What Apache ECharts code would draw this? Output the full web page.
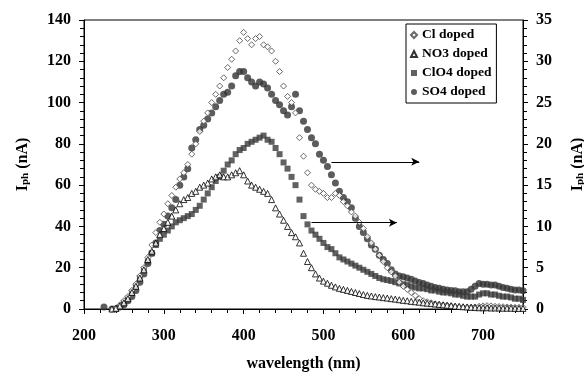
<!DOCTYPE html>
<html>
<head>
<meta charset="utf-8">
<script src="https://cdn.jsdelivr.net/npm/echarts@6/dist/echarts.min.js"></script>
<style>
  html, body { margin: 0; padding: 0; background: #fff; }
  #chart { width: 584px; height: 372px; }
</style>
</head>
<body>
<div id="chart"></div>
<script>
// wavelength (nm), shared by every series
const wavelength = [
  225, 230, 235, 240, 245, 250, 255, 260, 265, 270,
  275, 280, 285, 290, 295, 300, 305, 310, 315, 320,
  325, 330, 335, 340, 345, 350, 355, 360, 365, 370,
  375, 380, 385, 390, 395, 400, 405, 410, 415, 420,
  425, 430, 435, 440, 445, 450, 455, 460, 465, 470,
  475, 480, 485, 490, 495, 500, 505, 510, 515, 520,
  525, 530, 535, 540, 545, 550, 555, 560, 565, 570,
  575, 580, 585, 590, 595, 600, 605, 610, 615, 620,
  625, 630, 635, 640, 645, 650, 655, 660, 665, 670,
  675, 680, 685, 690, 695, 700, 705, 710, 715, 720,
  725, 730, 735, 740, 745, 750
];

// left axis (nA)
const clDoped = [
  null, null, 0, 0.5, 2, 4, 6, 9, 12, 16,
  20, 25, 31, 37, 42, 46, 51, 55, 59, 63,
  66, 70, 75, 80, 86, 91, 95, 100, 104, 108,
  112, 117, 121, 125, 130, 134, 131, 128, 131, 132,
  128, 127, 125, 120, 115, 108, 103, 100, 95, 83,
  74, 66, 60, 58, 57, 56, 54, 54, 56, 55,
  52, 50, 47, 45, 42, 39, 35, 32, 29, 26,
  23, 20, 18, 16, 13, 11, 9.5, 8, 6.5, 5,
  4, 3.5, 3, 2.5, 2.2, 2, 1.8, 1.5, 1.2, 1,
  0.9, 0.8, 0.9, 1, 1.3, 1.5, 1.6, 1.5, 1.3, 1.2,
  1.1, 1, 0.9, 0.8, 0.8, 0.8
];
const no3Doped = [
  null, null, 0, 0.3, 1.5, 3, 5, 8, 11, 15,
  19, 24, 28, 32, 36, 39, 42, 45, 48, 51,
  53, 54, 56, 57, 59, 60, 61, 63, 64, 65,
  64, 64, 65, 66, 67, 65, 62, 60, 59, 58,
  57, 56, 53, 49, 46, 43, 40, 37, 35, 32,
  27, 23, 20, 17, 15, 13.5, 12.5, 11.5, 10.7, 10,
  9.5, 9, 8.5, 8, 7.5, 7, 6.6, 6.3, 6, 5.8,
  5.5, 5.3, 5, 4.8, 4.5, 4.2, 4, 3.7, 3.5, 3.3,
  3, 2.8, 2.6, 2.4, 2.2, 2, 1.8, 1.6, 1.4, 1.3,
  1.1, 1, 0.8, 0.7, 0.6, 0.6, 0.6, 0.5, 0.5, 0.5,
  0.4, 0.4, 0.4, 0.3, 0.3, 0.3
];

// right axis (nA)
const clo4Doped = [
  null, null, null, 0, 0.25, 0.75, 1.25, 2, 2.75, 3.75,
  4.75, 5.75, 6.75, 7.75, 8.5, 9, 9.5, 10, 10.5, 10.75,
  11, 11.25, 11.5, 12, 12.5, 13.25, 14, 14.75, 15.5, 16,
  16.75, 17.5, 18, 18.75, 19.25, 19.5, 20, 20.25, 20.5, 20.75,
  21, 20.5, 20.25, 19.5, 18.75, 17.75, 17, 16, 15, 13.25,
  11.25, 10.25, 9.5, 9, 8.5, 8, 7.5, 7.25, 6.75, 6.25,
  6, 5.75, 5.5, 5.25, 5, 4.75, 4.5, 4.25, 4, 3.75,
  3.6, 3.5, 3.4, 3.25, 3.1, 3, 2.9, 2.75, 2.6, 2.5,
  2.5, 2.4, 2.25, 2.25, 2.1, 2, 2, 1.9, 1.75, 1.75,
  1.6, 1.5, 1.5, 1.5, 1.75, 1.9, 1.9, 1.75, 1.75, 1.6,
  1.5, 1.5, 1.4, 1.25, 1.25, 1.1
];
const so4Doped = [
  0.25, null, 0, 0, 0.25, 0.5, 1, 1.5, 2.25, 3.25,
  4.25, 5.5, 6.75, 8, 9.5, 10.25, 11.25, 12.25, 13.25, 15,
  16, 17, 19.5, 20.5, 21.75, 22.25, 23, 23.75, 24.5, 25.25,
  26, 26.25, 27, 28.25, 28.75, 28.75, 28, 27.5, 27, 27.5,
  27.25, 26.75, 26, 25.25, 24.75, 24, 23.5, 24.5, 26, 24,
  22.75, 21.75, 20.75, 20, 18.75, 18, 17.25, 16.25, 15.25, 14.25,
  13.5, 13, 12.25, 11, 10, 9.25, 8.5, 7.75, 7.25, 6.5,
  6, 5.5, 4.75, 4.25, 4, 3.9, 3.75, 3.6, 3.4, 3.2,
  3.1, 2.9, 2.75, 2.6, 2.5, 2.4, 2.3, 2.25, 2.2, 2.1,
  2.1, 2.1, 2.4, 2.75, 3.1, 3, 3, 2.9, 2.9, 2.75,
  2.6, 2.5, 2.4, 2.3, 2.3, 2.2
];

const leftTicks = { min: 0, max: 140, interval: 20 };
const rightTicks = { min: 0, max: 35, interval: 5 };
const xTicks = { min: 200, max: 750, interval: 100 };

const font = 'Liberation Serif';
const pairs = (ys) => wavelength.map((x, i) => [x, ys[i]]);

const chart = echarts.init(document.getElementById('chart'));

const yName = {
  b: { fontFamily: font, fontWeight: 'bold', fontSize: 16, color: '#000' },
  sub: { fontFamily: font, fontWeight: 'bold', fontSize: 11, color: '#000', verticalAlign: 'bottom', padding: [6, 0, 0, 0] },
};

const axisCommon = {
  axisLine: { show: true, lineStyle: { color: '#000', width: 1 } },
  axisTick: { show: true, length: 5, lineStyle: { color: '#000' } },
  minorTick: { show: true, splitNumber: 5, length: 4, lineStyle: { color: '#000' } },
  splitLine: { show: false },
  axisLabel: { fontFamily: font, fontWeight: 'bold', fontSize: 16, color: '#000' },
};

chart.setOption({
  animation: false,
  backgroundColor: '#fff',
  grid: {
    left: 84, right: 61, top: 20, bottom: 63,
    outerBoundsMode: 'none',
    containLabel: false,
    show: true, borderColor: '#000', borderWidth: 1,
  },
  legend: {
    orient: 'vertical',
    left: 406, top: 24,
    itemWidth: 6, itemHeight: 6, itemGap: 5,
    padding: [4, 5, 4, 4],
    borderColor: '#000', borderWidth: 1,
    textStyle: { fontFamily: font, fontWeight: 'bold', fontSize: 13.5, color: '#000' },
    data: ['Cl doped', 'NO3 doped', 'ClO4 doped', 'SO4 doped'],
  },
  xAxis: {
    type: 'value',
    ...xTicks,
    ...axisCommon,
    axisLabel: { ...axisCommon.axisLabel, margin: 19, showMaxLabel: false },
    name: 'wavelength (nm)',
    nameLocation: 'middle',
    nameGap: 47,
    nameTextStyle: { fontFamily: font, fontWeight: 'bold', fontSize: 16, color: '#000' },
  },
  yAxis: [
    {
      type: 'value',
      position: 'left',
      ...leftTicks,
      ...axisCommon,
      axisLabel: { ...axisCommon.axisLabel, margin: 13 },
      name: '{b|I}{sub|ph}{b| (nA)}',
      nameLocation: 'middle',
      nameRotate: 90,
      nameGap: 53,
      nameTextStyle: { rich: yName },
    },
    {
      type: 'value',
      position: 'right',
      ...rightTicks,
      ...axisCommon,
      axisLabel: { ...axisCommon.axisLabel, margin: 13 },
      name: '{b|I}{sub|ph}{b| (nA)}',
      nameLocation: 'middle',
      nameRotate: 90,
      nameGap: 46,
      nameTextStyle: { rich: yName },
    },
  ],
  series: [
    {
      name: 'SO4 doped', type: 'scatter', yAxisIndex: 1,
      symbol: 'circle', symbolSize: 7,
      itemStyle: { color: '#333' },
      data: pairs(so4Doped),
      z: 2,
    },
    {
      name: 'ClO4 doped', type: 'scatter', yAxisIndex: 1,
      symbol: 'rect', symbolSize: 6,
      itemStyle: { color: '#3a3a3a' },
      data: pairs(clo4Doped),
      z: 2,
    },
    {
      name: 'Cl doped', type: 'scatter', yAxisIndex: 0,
      symbol: 'diamond', symbolSize: 6,
      itemStyle: { color: '#fff', borderColor: '#444', borderWidth: 1 },
      data: pairs(clDoped),
      z: 3,
      markLine: {
        silent: true,
        symbol: ['none', 'arrow'],
        symbolSize: [6, 8],
        label: { show: false },
        lineStyle: { color: '#000', width: 1, type: 'solid' },
        data: [
          [{ coord: [510, 71.3] }, { coord: [620, 71.3] }],
          [{ coord: [485, 41.8] }, { coord: [592, 41.8] }],
        ],
      },
    },
    {
      name: 'NO3 doped', type: 'scatter', yAxisIndex: 0,
      symbol: 'triangle', symbolSize: 6,
      itemStyle: { color: '#fff', borderColor: '#000', borderWidth: 1 },
      data: pairs(no3Doped),
      z: 3,
    },
  ],
});
</script>
</body>
</html>
